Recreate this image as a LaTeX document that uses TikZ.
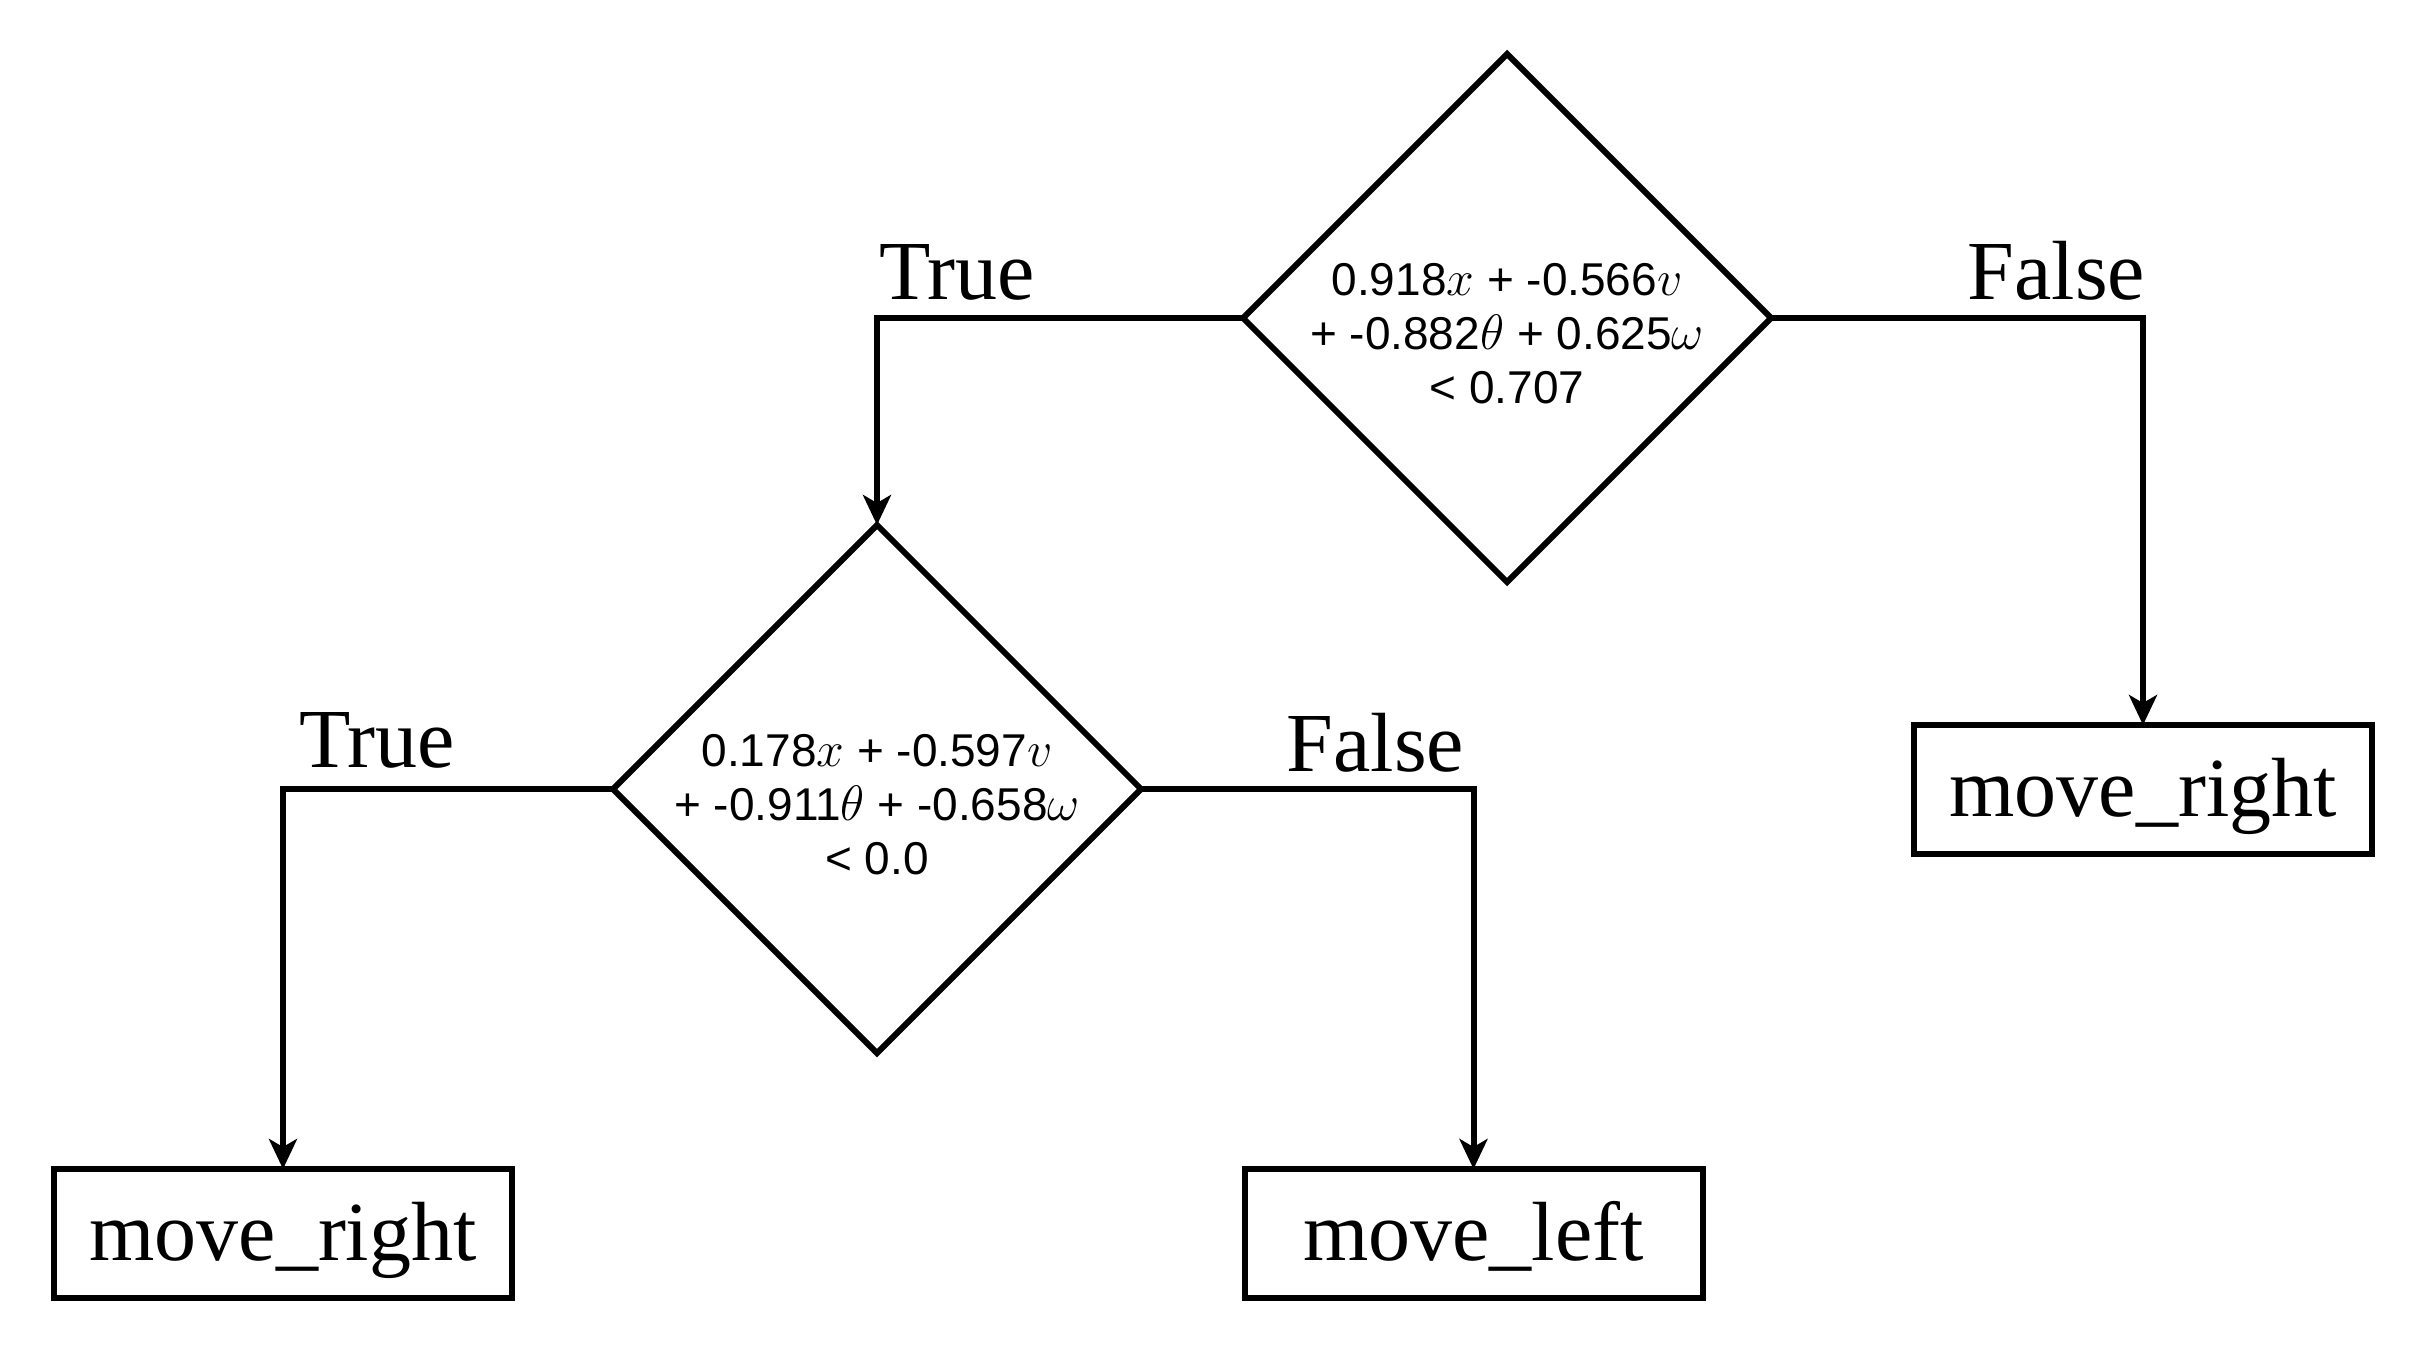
\documentclass[tikz,border=0pt]{standalone}
\usepackage{fontspec}
\setmainfont{Liberation Serif}
\setsansfont{Liberation Sans}
\usetikzlibrary{shapes.geometric,arrows.meta}

\tikzset{every picture/.style={line width=3pt}}
\tikzset{
  test/.style={diamond, draw, inner sep=0pt, outer sep=0pt, minimum width=264pt, minimum height=264pt},
  leaf/.style={rectangle, draw, inner sep=0pt, outer sep=0pt, minimum width=229pt, minimum height=64.5pt, text height=27pt, text depth=0pt, font=\fontsize{42}{50}\selectfont},
  branch/.style={inner sep=0pt, font=\fontsize{42}{50}\selectfont},
  rule/.style={align=center, font=\sffamily\fontsize{23}{27}\selectfont, yshift=-8pt},
  link/.style={-{Stealth[length=15pt,width=14pt,inset=4pt]}, line join=miter}
}

\begin{document}
\begin{tikzpicture}[x=0.5pt,y=0.5pt,yscale=-1,xscale=1]
    \useasboundingbox (0,0) rectangle (2426,1351);

    % Decisions
    \node [test, label={[rule]center:0.918$x$ + -0.566$v$\\+ -0.882$\theta$ + 0.625$\omega$\\< 0.707}] (root) at (1507,318) {};
    \node [test, label={[rule]center:0.178$x$ + -0.597$v$\\+ -0.911$\theta$ + -0.658$\omega$\\< 0.0}] (sub) at (877,789) {};

    % Leaves
    \node [leaf] (rightA) at (2143,789.5) {move\_right};
    \node [leaf] (rightB) at (283,1233.5) {move\_right};
    \node [leaf] (left) at (1473.5,1233.5) {move\_left};

    % Edges
    \draw [link] (root.west) -| (sub.north);
    \draw [link] (root.east) -| (rightA.north);
    \draw [link] (sub.west) -| (rightB.north);
    \draw [link] (sub.east) -| (left.north);

    % Text Node
    \node [branch, anchor=base west] (rootT) at (876,299) {True};
    % Text Node
    \node [branch, anchor=base east] (rootF) at (2148,299) {False};
    % Text Node
    \node [branch, anchor=base west] (subT) at (296,767) {True};
    % Text Node
    \node [branch, anchor=base east] (subF) at (1467,771) {False};

\end{tikzpicture}
\end{document}
